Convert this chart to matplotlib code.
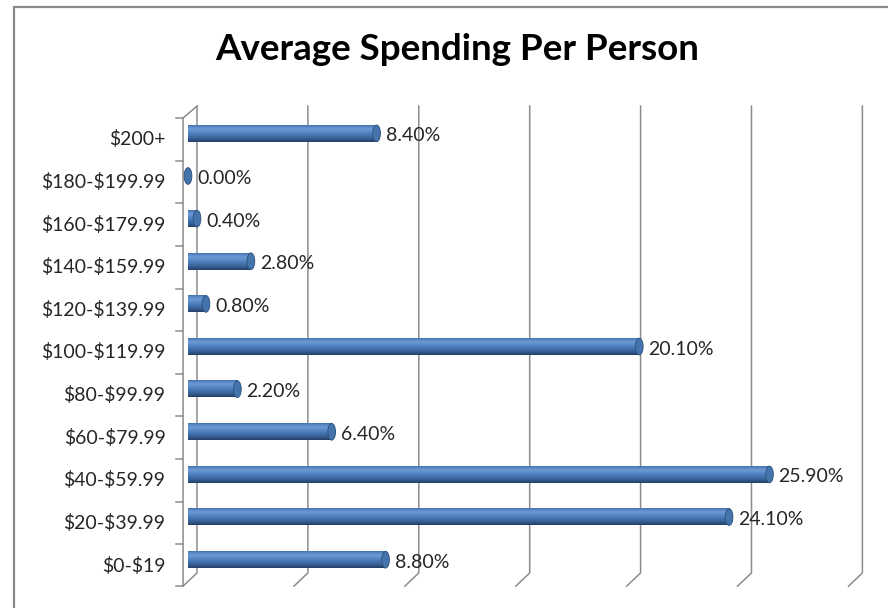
import numpy as np
import matplotlib.pyplot as plt
from matplotlib.colors import LinearSegmentedColormap
from matplotlib.patches import Ellipse, Rectangle

plt.rcParams['font.family'] = ['Lato', 'DejaVu Sans']

# Spending brackets, bottom to top, and share of people in each (%)
categories = ['$0-$19', '$20-$39.99', '$40-$59.99', '$60-$79.99', '$80-$99.99',
              '$100-$119.99', '$120-$139.99', '$140-$159.99', '$160-$179.99',
              '$180-$199.99', '$200+']
shares = [8.8, 24.1, 25.9, 6.4, 2.2, 20.1, 0.8, 2.8, 0.4, 0.0, 8.4]
grid_ticks = [0, 5, 10, 15, 20, 25, 30]

W, H = 888, 608
fig = plt.figure(figsize=(W / 100, H / 100), dpi=100)
fig.patch.set_facecolor('white')

# chart border (runs off the right/bottom edges)
fig.patches.append(Rectangle((14 / W, -0.1), 1.2, 1 - 7 / H + 0.1, transform=fig.transFigure,
                             fill=False, edgecolor='#8a8a8a', linewidth=1.6))

ax = fig.add_axes([165.55 / W, 21 / H, 718.4 / W, 469 / H])
ax.set_xlim(-1, 31)
ax.set_ylim(-0.5, 10.5)
ax.axis('off')

grid_col = '#8c8c8c'
depth_dx, top_y, back_bot, front_bot = 0.62, 10.78, -0.17, -0.48

# back-wall gridlines with their slanted floor edges
for t in grid_ticks:
    xb = 0.4 + 0.988 * t
    ax.plot([xb, xb, xb - depth_dx], [top_y, back_bot, front_bot],
            color=grid_col, lw=1.1, clip_on=False, zorder=1)

# front category axis with tick marks
x_ax = 0.4 - depth_dx
ax.plot([0.4, x_ax, x_ax], [top_y, 10.5, front_bot], color=grid_col, lw=1.1, clip_on=False, zorder=1)
for j in range(len(categories) + 1):
    yb = -0.5 + j
    if j == 0:
        yb = front_bot
    ax.plot([x_ax - 0.31, x_ax], [yb, yb], color=grid_col, lw=1.1, clip_on=False, zorder=1)

# cylinder shading
cyl = LinearSegmentedColormap.from_list('cyl', [
    (0.0, '#233f66'), (0.2, '#375f95'), (0.5, '#4d80bf'),
    (0.75, '#6e98d2'), (0.9, '#5c8ac7'), (1.0, '#4170a8')])
grad = np.linspace(0, 1, 64).reshape(-1, 1)

bar_h, bar_off = 0.39, 0.14
for i, (cat, v) in enumerate(zip(categories, shares)):
    yc = i + bar_off
    if v > 0:
        ax.imshow(grad, cmap=cyl, origin='lower', aspect='auto', interpolation='bilinear',
                  extent=[0, v, yc - bar_h / 2, yc + bar_h / 2], zorder=2)
    ax.add_patch(Ellipse((v, yc), width=0.34, height=bar_h, facecolor='#4574ad',
                         edgecolor='#2f5582', lw=0.7, zorder=3))
    ax.text(v + 0.4, yc - 0.06, f'{v:.2f}%', ha='left', va='center', fontsize=14,
            color='#262626', zorder=4)
    ax.text(-1.0, i, cat, ha='right', va='center', fontsize=14, color='#262626',
            clip_on=False, parse_math=False)

ax.set_xlim(-1, 31)
ax.set_ylim(-0.5, 10.5)

fig.text(457 / W, 1 - 50 / H, 'Average Spending Per Person', ha='center', va='center',
         fontsize=26.5, fontweight='bold', color='black')

fig.savefig('out.png', dpi=100)
